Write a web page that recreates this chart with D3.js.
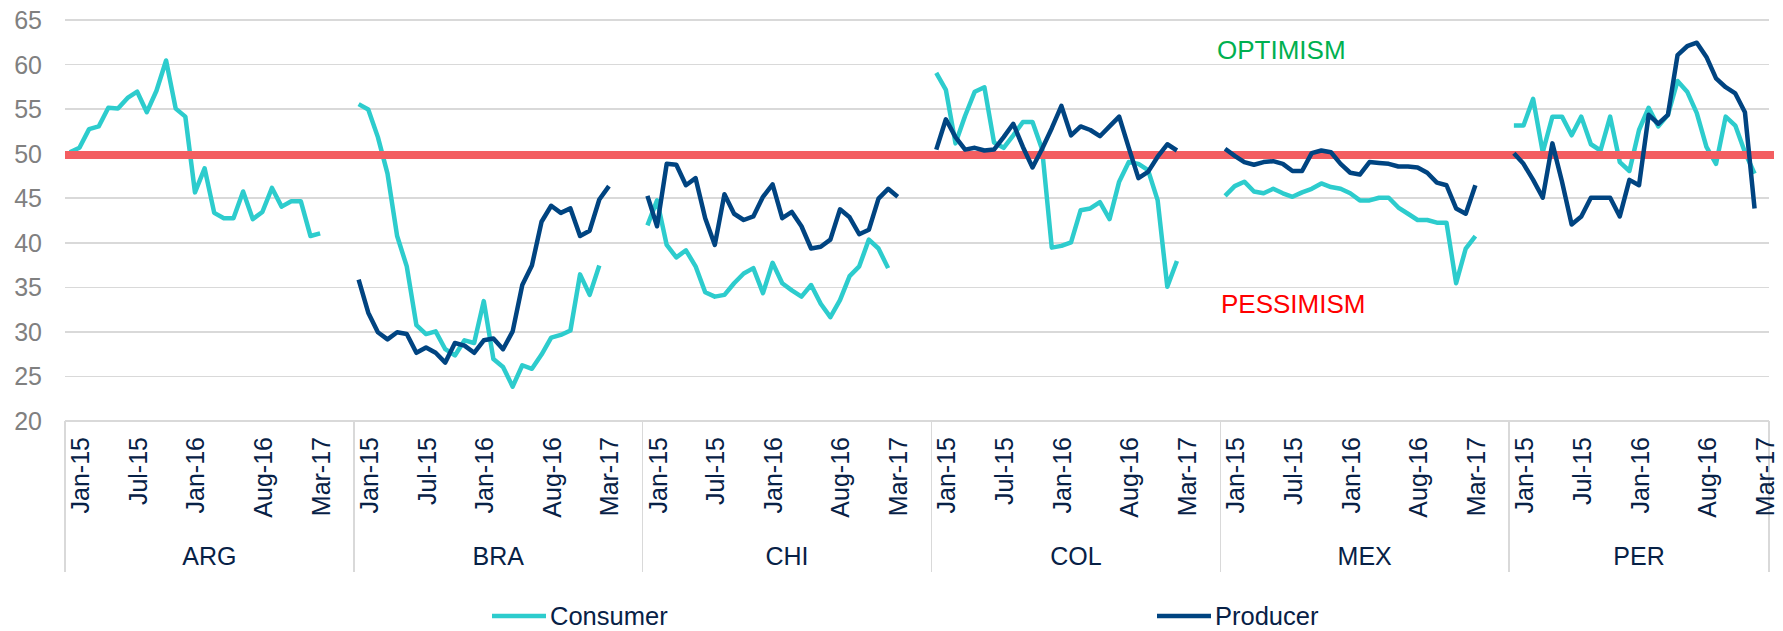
<!DOCTYPE html>
<html lang="en">
<head>
<meta charset="utf-8">
<title>Consumer and Producer Confidence</title>
<script src="https://cdn.jsdelivr.net/npm/d3@7"></script>
<style>
	body { margin: 0; background: #fff; }
	svg { display: block; font-family: "Liberation Sans", Arial, sans-serif; }
	.grid line { stroke: #d9d9d9; stroke-width: 1.5; shape-rendering: crispEdges; }
	.grid path, .yaxis path, .xaxis path { display: none; }
	.yaxis text { fill: #808080; font-size: 25px; }
	.xaxis text { fill: #072146; font-size: 25px; }
	.sep { stroke: #d9d9d9; stroke-width: 1.5; shape-rendering: crispEdges; }
	.series { fill: none; stroke-width: 4.5; stroke-linejoin: round; }
</style>
</head>
<body>
<div id="chart"></div>
<script>

var w = 1783;
var h = 631;

var countries = ["ARG", "BRA", "CHI", "COL", "MEX", "PER"];
var months = ["Jan-15","Feb-15","Mar-15","Apr-15","May-15","Jun-15","Jul-15","Aug-15","Sep-15","Oct-15","Nov-15","Dec-15",
              "Jan-16","Feb-16","Mar-16","Apr-16","May-16","Jun-16","Jul-16","Aug-16","Sep-16","Oct-16","Nov-16","Dec-16",
              "Jan-17","Feb-17","Mar-17"];

// labels shown under each country (Excel puts them one slot to the right)
var tickLabels = ["Jan-15", "Jul-15", "Jan-16", "Aug-16", "Mar-17"];
var tickSlots = [1, 7, 13, 20, 26];

var yTicks = [20, 25, 30, 35, 40, 45, 50, 55, 60, 65];
var threshold = 49.8;

var consumerARG = [50.1, 50.6, 52.7, 53.0, 55.1, 55.0, 56.2, 56.9, 54.6, 57.0, 60.4, 55.0, 54.1, 45.6, 48.3, 43.3, 42.7, 42.7, 45.7, 42.6, 43.4, 46.1, 44.0, 44.6, 44.6, 40.7, 41.0];
var producerARG = [];
var consumerBRA = [55.5, 54.9, 51.8, 47.7, 40.7, 37.3, 30.7, 29.7, 30.0, 28.0, 27.3, 29.0, 28.7, 33.4, 26.9, 26.0, 23.8, 26.2, 25.8, 27.4, 29.3, 29.6, 30.1, 36.4, 34.1, 37.4];
var producerBRA = [35.8, 32.1, 29.9, 29.1, 29.9, 29.7, 27.6, 28.2, 27.6, 26.5, 28.7, 28.4, 27.6, 29.0, 29.2, 28.0, 30.0, 35.2, 37.4, 42.3, 44.1, 43.3, 43.8, 40.7, 41.3, 44.8, 46.3];
var consumerCHI = [41.9, 44.7, 39.7, 38.3, 39.1, 37.3, 34.4, 33.9, 34.1, 35.4, 36.5, 37.1, 34.3, 37.7, 35.4, 34.6, 33.9, 35.2, 33.1, 31.6, 33.5, 36.2, 37.3, 40.3, 39.3, 37.1];
var producerCHI = [45.2, 41.8, 48.8, 48.7, 46.4, 47.2, 42.7, 39.7, 45.4, 43.2, 42.5, 42.9, 45.1, 46.5, 42.7, 43.4, 41.8, 39.3, 39.5, 40.3, 43.7, 42.8, 40.9, 41.4, 44.9, 46.0, 45.1];
var consumerCOL = [59.0, 57.1, 51.1, 54.2, 56.9, 57.4, 51.2, 50.6, 52.0, 53.5, 53.5, 50.4, 39.4, 39.6, 40.0, 43.6, 43.8, 44.5, 42.6, 46.8, 49.0, 48.8, 48.1, 44.7, 35.0, 37.9];
var producerCOL = [50.4, 53.8, 51.8, 50.4, 50.6, 50.3, 50.4, 51.8, 53.3, 50.7, 48.4, 50.5, 52.8, 55.3, 52.0, 53.0, 52.6, 51.9, 53.0, 54.1, 50.6, 47.2, 47.9, 49.6, 51.0, 50.3];
var consumerMEX = [45.2, 46.3, 46.8, 45.7, 45.5, 46.0, 45.5, 45.1, 45.6, 46.0, 46.6, 46.2, 46.0, 45.5, 44.7, 44.7, 45.0, 45.0, 43.9, 43.2, 42.5, 42.5, 42.2, 42.2, 35.4, 39.3, 40.7];
var producerMEX = [50.5, 49.7, 49.0, 48.7, 49.0, 49.1, 48.8, 48.0, 48.0, 50.0, 50.3, 50.1, 48.8, 47.8, 47.6, 49.0, 48.9, 48.8, 48.5, 48.5, 48.4, 47.8, 46.7, 46.4, 43.8, 43.2, 46.4];
var consumerPER = [53.1, 53.1, 56.1, 50.1, 54.1, 54.1, 52.0, 54.1, 51.0, 50.3, 54.1, 49.0, 48.0, 52.6, 55.1, 53.0, 54.3, 58.1, 56.9, 54.5, 50.7, 48.8, 54.1, 53.1, 50.1, 47.7];
var producerPER = [50.0, 48.8, 47.0, 45.0, 51.1, 46.8, 42.0, 42.9, 45.0, 45.0, 45.0, 42.9, 47.0, 46.4, 54.3, 53.3, 54.3, 61.0, 62.0, 62.4, 60.8, 58.4, 57.4, 56.7, 54.6, 43.8];

var consumer = [consumerARG, consumerBRA, consumerCHI, consumerCOL, consumerMEX, consumerPER];
var producer = [producerARG, producerBRA, producerCHI, producerCOL, producerMEX, producerPER];

var colConsumer = "#2dcccd";
var colProducer = "#004481";

var plotLeft = 65, plotRight = 1769, plotTop = 19.5, plotBottom = 420.5;

// each country gets its months plus 3 empty slots (not after the last one)
var gap = 3;
var groupLen = months.length + gap;
var totalSlots = countries.length * groupLen - gap;

var x = d3.scaleLinear().domain([0, totalSlots]).range([plotLeft, plotRight]);
var y = d3.scaleLinear().domain([20, 65]).range([plotBottom, plotTop]);

function groupStart(g) { return x(g * groupLen); }
function groupEnd(g) { return x(Math.min((g + 1) * groupLen, totalSlots)); }

var svg = d3.select("#chart")
	.append("svg")
	.attr("width", w)
	.attr("height", h);

//Gridlines
svg.append("g")
	.attr("class", "grid")
	.attr("transform", "translate(" + plotLeft + ",0)")
	.call(d3.axisLeft(y).tickValues(yTicks).tickSize(-(plotRight - plotLeft)).tickFormat(""));

//Y axis labels
svg.append("g")
	.attr("class", "yaxis")
	.attr("transform", "translate(" + plotLeft + ",0)")
	.call(d3.axisLeft(y).tickValues(yTicks).tickSize(0).tickPadding(23))
	.selectAll("text").attr("dy", "0.36em");

//Category separators
var seps = d3.range(countries.length).map(groupStart).concat([x(totalSlots)]);
svg.selectAll("line.sep")
	.data(seps)
	.enter()
	.append("line")
	.attr("class", "sep")
	.attr("x1", function(d) { return d; })
	.attr("x2", function(d) { return d; })
	.attr("y1", plotBottom)
	.attr("y2", 572);

//Month tick labels
var tickPos = [], tickText = [];
countries.forEach(function(c, g) {
	tickSlots.forEach(function(s, k) {
		tickPos.push(g * groupLen + s + 0.5);
		tickText.push(tickLabels[k]);
	});
});
var xAxis = svg.append("g")
	.attr("class", "xaxis")
	.attr("transform", "translate(0," + plotBottom + ")")
	.call(d3.axisBottom(x).tickValues(tickPos).tickSize(0)
		.tickFormat(function(d, i) { return tickText[i]; }));
xAxis.selectAll("text")
	.attr("transform", "rotate(-90)")
	.attr("text-anchor", "end")
	.attr("x", -16.5)
	.attr("y", 0)
	.attr("dy", "0.36em");

//Country labels
svg.selectAll("text.country")
	.data(countries)
	.enter()
	.append("text")
	.attr("class", "country")
	.attr("x", function(d, g) { return (groupStart(g) + groupEnd(g)) / 2; })
	.attr("y", 565)
	.attr("text-anchor", "middle")
	.attr("font-size", "25px")
	.attr("fill", "#072146")
	.text(function(d) { return d; });

var line = d3.line()
	.x(function(d) { return x(d.slot); })
	.y(function(d) { return y(d.v); });

function toPoints(vals, g) {
	return vals.map(function(v, i) { return { slot: g * groupLen + i + 0.5, v: v }; });
}

//Consumer lines
svg.selectAll("path.cons")
	.data(consumer)
	.enter()
	.append("path")
	.attr("class", "series cons")
	.attr("stroke", colConsumer)
	.attr("d", function(d, g) { return d.length ? line(toPoints(d, g)) : null; });

//50 line
svg.append("line")
	.attr("x1", plotLeft)
	.attr("x2", plotRight + 5)
	.attr("y1", y(threshold))
	.attr("y2", y(threshold))
	.attr("stroke", "#f35e61")
	.attr("stroke-width", 8);

//Producer lines
svg.selectAll("path.prod")
	.data(producer)
	.enter()
	.append("path")
	.attr("class", "series prod")
	.attr("stroke", colProducer)
	.attr("d", function(d, g) { return d.length ? line(toPoints(d, g)) : null; });

//Annotations
svg.append("text")
	.attr("x", 1217)
	.attr("y", 59)
	.attr("font-size", "26px")
	.attr("fill", "#00b050")
	.text("OPTIMISM");

svg.append("text")
	.attr("x", 1221)
	.attr("y", 313)
	.attr("font-size", "26px")
	.attr("fill", "#ff0000")
	.text("PESSIMISM");

//Legend
var legend = [
	{ name: "Consumer", color: colConsumer, x: 492 },
	{ name: "Producer", color: colProducer, x: 1157 }
];
var lg = svg.selectAll("g.legend")
	.data(legend)
	.enter()
	.append("g")
	.attr("class", "legend")
	.attr("transform", function(d) { return "translate(" + d.x + ",616)"; });
lg.append("line")
	.attr("x1", 0)
	.attr("x2", 54)
	.attr("stroke", function(d) { return d.color; })
	.attr("stroke-width", 4.5);
lg.append("text")
	.attr("x", 58)
	.attr("y", 8.5)
	.attr("font-size", "25.5px")
	.attr("fill", "#072146")
	.text(function(d) { return d.name; });

</script>
</body>
</html>
